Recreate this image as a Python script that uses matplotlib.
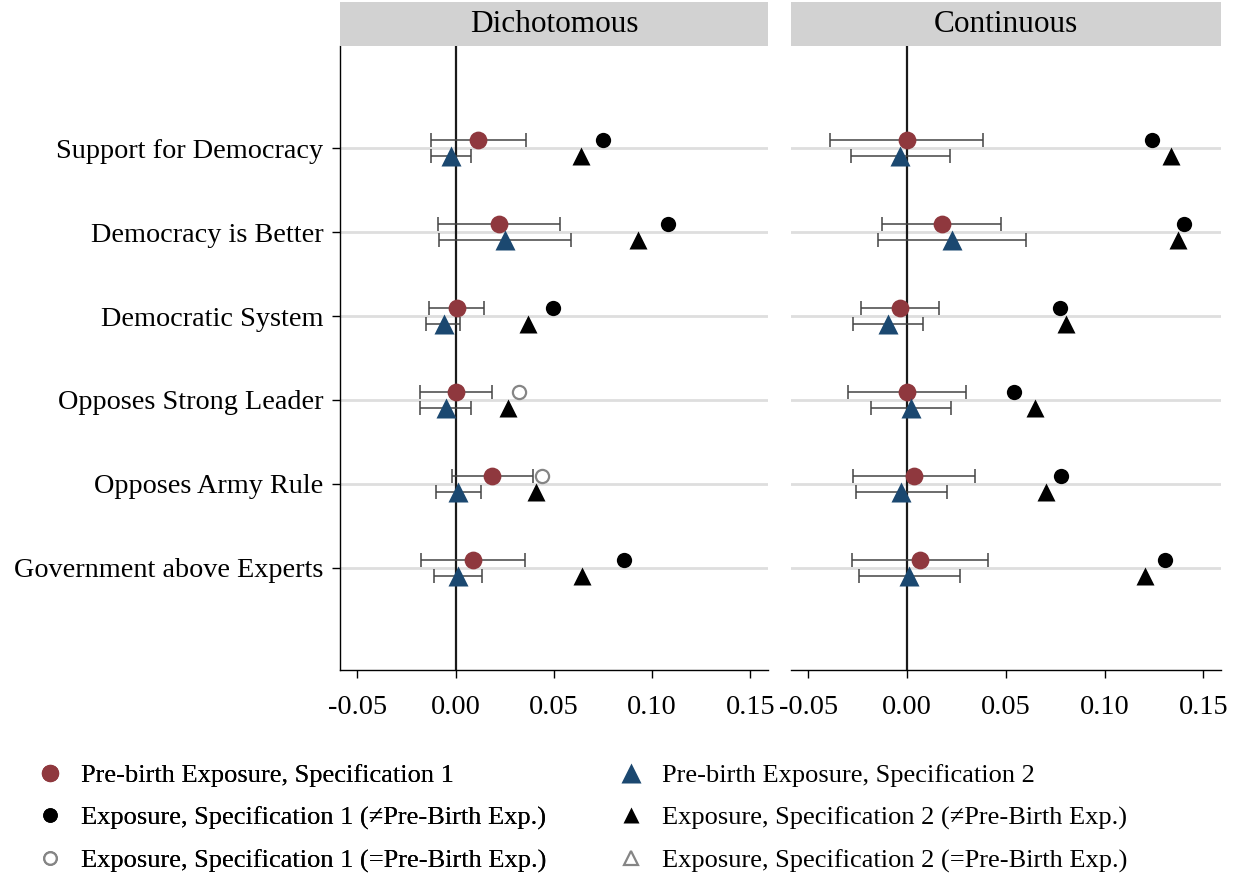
import matplotlib
matplotlib.use("Agg")
import matplotlib.pyplot as plt
from matplotlib.lines import Line2D
import numpy as np

plt.rcParams['font.family'] = ['Liberation Serif', 'DejaVu Serif']

outcomes = ["Support for Democracy", "Democracy is Better", "Democratic System",
            "Opposes Strong Leader", "Opposes Army Rule", "Government above Experts"]
panels = ["Dichotomous", "Continuous"]

# Pre-birth exposure, spec 1: estimate, lower, upper
pre1_est = {"Dichotomous": [0.0115, 0.0220, 0.0007, 0.0003, 0.0186, 0.0088],
            "Continuous":  [-0.0002, 0.0176, -0.0037, 0.0002, 0.0036, 0.0063]}
pre1_lo = {"Dichotomous": [-0.0123, -0.0088, -0.0134, -0.0181, -0.0019, -0.0178],
           "Continuous":  [-0.0389, -0.0125, -0.0232, -0.0298, -0.0274, -0.0281]}
pre1_hi = {"Dichotomous": [0.0357, 0.0530, 0.0147, 0.0186, 0.0393, 0.0355],
           "Continuous":  [0.0384, 0.0476, 0.0162, 0.0300, 0.0342, 0.0408]}

# Pre-birth exposure, spec 2
pre2_est = {"Dichotomous": [-0.0024, 0.0252, -0.0061, -0.0051, 0.0015, 0.0010],
            "Continuous":  [-0.0036, 0.0228, -0.0098, 0.0020, -0.0029, 0.0012]}
pre2_lo = {"Dichotomous": [-0.0127, -0.0083, -0.0149, -0.0179, -0.0098, -0.0112],
           "Continuous":  [-0.0286, -0.0146, -0.0276, -0.0183, -0.0260, -0.0245]}
pre2_hi = {"Dichotomous": [0.0078, 0.0587, 0.0025, 0.0081, 0.0132, 0.0134],
           "Continuous":  [0.0215, 0.0603, 0.0081, 0.0223, 0.0203, 0.0269]}

# Exposure, spec 1 and spec 2, with flag: True if equal to pre-birth exposure
exp1_est = {"Dichotomous": [0.0750, 0.1080, 0.0496, 0.0323, 0.0438, 0.0856],
            "Continuous":  [0.1240, 0.1401, 0.0772, 0.0543, 0.0778, 0.1306]}
exp1_equal = {"Dichotomous": [False, False, False, True, True, False],
              "Continuous":  [False, False, False, False, False, False]}
exp2_est = {"Dichotomous": [0.0636, 0.0930, 0.0369, 0.0267, 0.0408, 0.0646],
            "Continuous":  [0.1338, 0.1374, 0.0806, 0.0646, 0.0706, 0.1203]}
exp2_equal = {"Dichotomous": [False] * 6,
              "Continuous":  [False] * 6}

xticks = [-0.05, 0.0, 0.05, 0.10, 0.15]
xticklabels = ["-0.05", "0.00", "0.05", "0.10", "0.15"]

RED = "#8f383e"
BLUE = "#1b4870"
GRAY = "#858585"
ERR = "#444444"
FS = 20.3

W, H = 1240, 873
fig = plt.figure(figsize=(W / 100, H / 100), dpi=100)

ax_specs = [(340, 768), (791, 1221)]
ax_top, ax_bot = 46, 670
off = 0.1
y = np.arange(len(outcomes))

for pi, (panel, (xl, xr)) in enumerate(zip(panels, ax_specs)):
    ax = fig.add_axes([xl / W, 1 - ax_bot / H, (xr - xl) / W, (ax_bot - ax_top) / H])
    hx = fig.add_axes([xl / W, 1 - ax_top / H, (xr - xl) / W, (ax_top - 2) / H])
    hx.set_facecolor("#d2d2d2")
    hx.set_xticks([]); hx.set_yticks([])
    for s in hx.spines.values():
        s.set_visible(False)
    hx.text(0.5, 0.48, panel, ha="center", va="center", fontsize=22.5, transform=hx.transAxes)

    for yy in y:
        ax.axhline(yy, color="#dedede", lw=2.0, zorder=0)
    ax.axvline(0, color="#1a1a1a", lw=1.6, zorder=1)

    e1 = np.array(pre1_est[panel]); l1 = np.array(pre1_lo[panel]); h1 = np.array(pre1_hi[panel])
    e2 = np.array(pre2_est[panel]); l2 = np.array(pre2_lo[panel]); h2 = np.array(pre2_hi[panel])
    ax.errorbar(e1, y - off, xerr=[e1 - l1, h1 - e1], fmt="none", ecolor=ERR,
                elinewidth=1.1, capsize=4.8, capthick=1.1, zorder=2)
    ax.errorbar(e2, y + off, xerr=[e2 - l2, h2 - e2], fmt="none", ecolor=ERR,
                elinewidth=1.1, capsize=4.8, capthick=1.1, zorder=2)
    ax.plot(e1, y - off, "o", color=RED, ms=12.8, mec="none", zorder=4)
    ax.plot(e2, y + off, "^", color=BLUE, ms=15, mec="none", zorder=4)

    x1 = np.array(exp1_est[panel]); q1 = np.array(exp1_equal[panel])
    x2 = np.array(exp2_est[panel]); q2 = np.array(exp2_equal[panel])
    ax.plot(x1[~q1], y[~q1] - off, "o", color="black", ms=11, mec="none", zorder=3)
    ax.plot(x1[q1], y[q1] - off, "o", mfc="white", mec=GRAY, mew=1.6, ms=9.5, zorder=3)
    ax.plot(x2[~q2], y[~q2] + off, "^", color="black", ms=13, mec="none", zorder=3)
    ax.plot(x2[q2], y[q2] + off, "^", mfc="white", mec=GRAY, mew=1.6, ms=11, zorder=3)

    ax.set_xlim(-0.0588, 0.1590)
    ax.set_ylim(len(outcomes) - 1 + 1.215, -1.215)
    ax.set_xticks(xticks)
    ax.set_xticklabels(xticklabels, fontsize=FS)
    ax.tick_params(axis="x", length=6, width=1.0, pad=12)
    ax.spines["top"].set_visible(False)
    ax.spines["right"].set_visible(False)
    ax.spines["bottom"].set_linewidth(1.0)
    if pi == 0:
        ax.set_yticks(y)
        ax.set_yticklabels(outcomes, fontsize=FS)
        ax.tick_params(axis="y", length=6, width=1.0, pad=6)
        ax.spines["left"].set_linewidth(1.0)
    else:
        ax.set_yticks([])
        ax.spines["left"].set_visible(False)

handles1 = [
    Line2D([], [], ls="none", marker="o", color=RED, mec="none", ms=12.5),
    Line2D([], [], ls="none", marker="o", color="black", mec="none", ms=10.5),
    Line2D([], [], ls="none", marker="o", mfc="white", mec=GRAY, mew=1.6, ms=9),
]
handles2 = [
    Line2D([], [], ls="none", marker="^", color=BLUE, mec="none", ms=14.5),
    Line2D([], [], ls="none", marker="^", color="black", mec="none", ms=12),
    Line2D([], [], ls="none", marker="^", mfc="white", mec=GRAY, mew=1.6, ms=10),
]
labels1 = [
    "Pre-birth Exposure, Specification 1",
    "Exposure, Specification 1 (\u2260Pre-Birth Exp.)",
    "Exposure, Specification 1 (=Pre-Birth Exp.)",
]
labels2 = [
    "Pre-birth Exposure, Specification 2",
    "Exposure, Specification 2 (\u2260Pre-Birth Exp.)",
    "Exposure, Specification 2 (=Pre-Birth Exp.)",
]
common = dict(loc="upper left", frameon=False, fontsize=19, handlelength=1.2,
              handletextpad=0.55, labelspacing=0.72, borderaxespad=0, borderpad=0.4)
leg1 = fig.legend(handles1, labels1, bbox_to_anchor=(24 / W, 1 - 753 / H), **common)
fig.add_artist(leg1)
fig.legend(handles2, labels2, bbox_to_anchor=(605 / W, 1 - 753 / H), **common)

fig.savefig("out.png", dpi=100)
